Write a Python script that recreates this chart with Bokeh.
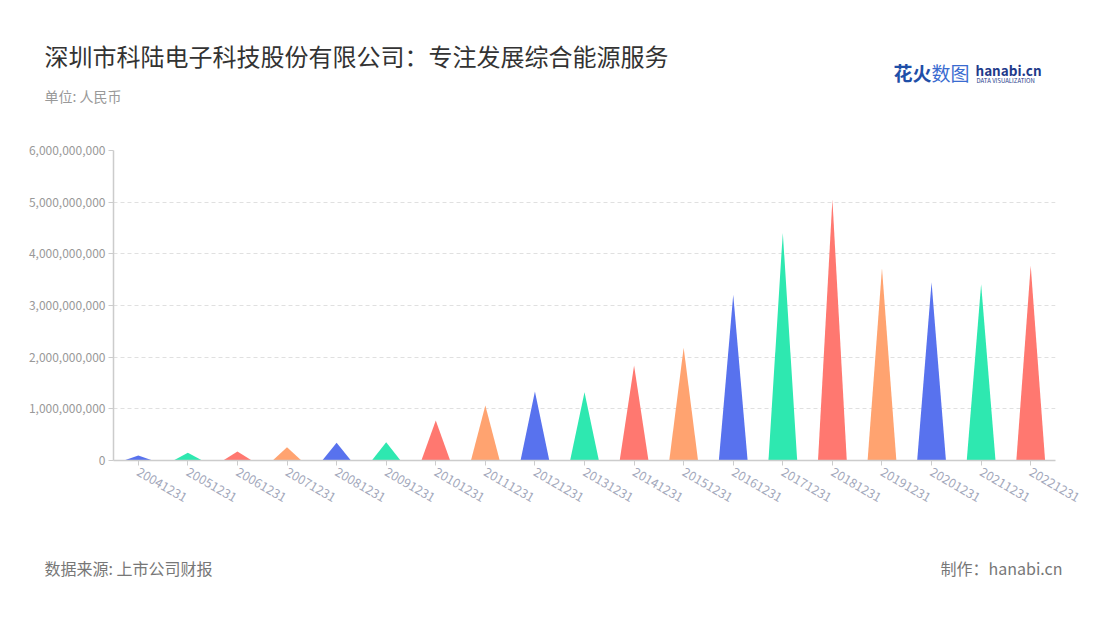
import math
from bokeh.plotting import figure
from bokeh.models import Range1d, FixedTicker, NumeralTickFormatter, Label, ColumnDataSource
from bokeh.embed import file_html
from bokeh.resources import INLINE

categories = ["20041231", "20051231", "20061231", "20071231", "20081231", "20091231",
              "20101231", "20111231", "20121231", "20131231", "20141231", "20151231",
              "20161231", "20171231", "20181231", "20191231", "20201231", "20211231",
              "20221231"]
values = [0.097e9, 0.148e9, 0.174e9, 0.258e9, 0.342e9, 0.355e9,
          0.774e9, 1.065e9, 1.335e9, 1.32e9, 1.84e9, 2.18e9,
          3.21e9, 4.41e9, 5.05e9, 3.72e9, 3.45e9, 3.41e9, 3.77e9]
palette = ["#5872EE", "#2EE8B0", "#FF7870", "#FFA370"]
y_ticks = [0, 1e9, 2e9, 3e9, 4e9, 5e9, 6e9]

FONT = "Noto Sans CJK SC"
half = 0.29

xs, ys, colors = [], [], []
for i, v in enumerate(values):
    xs.append([i - half, i, i + half])
    ys.append([0, v, 0])
    colors.append(palette[i % len(palette)])
src = ColumnDataSource(dict(xs=xs, ys=ys, color=colors))

p = figure(width=1100, height=612, output_backend="svg", toolbar_location=None,
           x_range=Range1d(-0.5, len(categories) - 0.5), y_range=Range1d(0, 6e9),
           min_border_left=113, min_border_right=45, min_border_top=150, min_border_bottom=152,
           frame_width=942, frame_height=310)
p.outline_line_color = None
p.background_fill_color = "white"
p.border_fill_color = "white"

p.patches("xs", "ys", source=src, fill_color="color", line_color=None)

# y axis
p.yaxis.ticker = FixedTicker(ticks=y_ticks)
p.yaxis.formatter = NumeralTickFormatter(format="0,0")
p.yaxis.axis_line_color = "#CCCCCC"
p.yaxis.axis_line_width = 1.5
p.yaxis.major_tick_line_color = "#CCCCCC"
p.yaxis.major_tick_out = 5
p.yaxis.major_tick_in = 0
p.yaxis.minor_tick_line_color = None
p.yaxis.major_label_text_color = "#999999"
p.yaxis.major_label_text_font = FONT
p.yaxis.major_label_text_font_size = "12px"
p.yaxis.major_label_standoff = 3

# x axis
p.xaxis.ticker = FixedTicker(ticks=list(range(len(categories))))
p.xaxis.major_label_overrides = {i: c for i, c in enumerate(categories)}
p.xaxis.axis_line_color = "#CCCCCC"
p.xaxis.axis_line_width = 1.5
p.xaxis.major_tick_line_color = "#CCCCCC"
p.xaxis.major_tick_out = 5
p.xaxis.major_tick_in = 0
p.xaxis.minor_tick_line_color = None
p.xaxis.major_label_text_color = "#A3A8BB"
p.xaxis.major_label_text_font = FONT
p.xaxis.major_label_text_font_size = "12.5px"
p.xaxis.major_label_orientation = -math.radians(30)
p.xaxis.major_label_standoff = 5

p.xgrid.grid_line_color = None
p.ygrid.grid_line_color = "#E0E0E0"
p.ygrid.grid_line_dash = "4 3"
p.ygrid.ticker = FixedTicker(ticks=y_ticks)

def side_label(side, text, px, py, size, color, align="left", bold=False):
    p.add_layout(Label(x=px, y=py, x_units="canvas", y_units="canvas", text=text,
                       text_font=FONT, text_font_size=size, text_color=color,
                       text_align=align, text_baseline="middle",
                       text_font_style="bold" if bold else "normal"), side)

side_label("above", "深圳市科陆电子科技股份有限公司：专注发展综合能源服务", 44, 55, "24px", "#333333")
side_label("above", "单位: 人民币", 44, 95, "14px", "#999999")
side_label("above", "花火", 893, 72, "19px", "#1F4FA8", bold=True)
side_label("above", "数图", 931, 72, "19px", "#3A6BD0")
side_label("above", "hanabi.cn", 975, 69, "13.5px", "#1E3A8A", bold=True)
side_label("above", "DATA VISUALIZATION", 976, 80, "6px", "#1E3A8A")
side_label("below", "数据来源: 上市公司财报", 44, 567, "16px", "#777777")
side_label("below", "制作：hanabi.cn", 1062, 567, "16px", "#777777", align="right")

open("out.html", "w").write(file_html(p, INLINE))
